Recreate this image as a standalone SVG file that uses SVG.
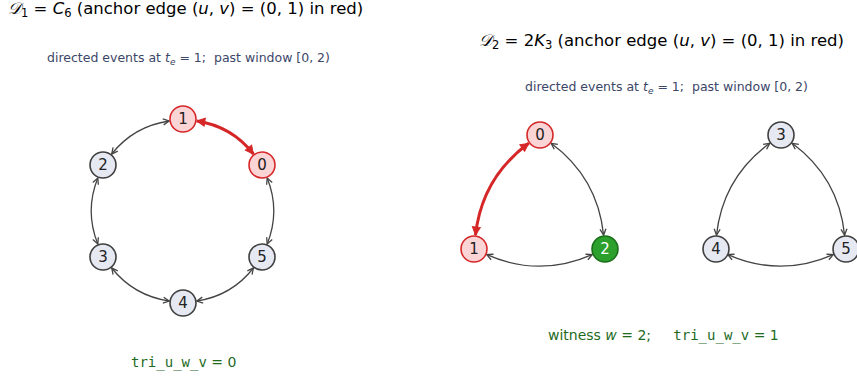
<svg xmlns="http://www.w3.org/2000/svg" width="857" height="378" viewBox="0 0 857 378">
<defs>
<style>
.title{font-family:"DejaVu Sans","Noto Sans",sans-serif;font-size:16.5px;fill:#000}
.sub{font-family:"DejaVu Sans","Noto Sans",sans-serif;font-size:12.5px;fill:#3b4668;white-space:pre}
.mono{font-family:"DejaVu Sans Mono","Liberation Mono",monospace}
.res{font-family:"DejaVu Sans","Noto Sans",sans-serif;font-size:14px;fill:#1e6b1e;white-space:pre}
.it{font-style:italic}
.node circle{stroke-width:1.6}
.plain circle{fill:#e6e8f2;stroke:#3f3f3f}
.anchor circle{fill:#fbd5d5;stroke:#d62728}
.wit circle{fill:#2ca02c;stroke:#1b6e1b}
.node text{font-family:"DejaVu Sans","Noto Sans",sans-serif;font-size:15px;fill:#222;text-anchor:middle;dominant-baseline:central}
.wit text{fill:#fff}
.e{fill:none;stroke:#444;stroke-width:1.3;marker-start:url(#ah);marker-end:url(#ah)}
.er{fill:none;stroke:#d62728;stroke-width:3;marker-start:url(#ahr);marker-end:url(#ahr)}
</style>
<marker id="ah" viewBox="-8 -5 10 10" refX="0" refY="0" markerWidth="10" markerHeight="10" markerUnits="userSpaceOnUse" orient="auto-start-reverse">
<path d="M-6,-3 L0,0 L-6,3" fill="none" stroke="#444" stroke-width="1.3"/>
</marker>
<marker id="ahr" viewBox="-10 -6 12 12" refX="0" refY="0" markerWidth="12" markerHeight="12" markerUnits="userSpaceOnUse" orient="auto-start-reverse">
<path d="M-8,-4 L0,0 L-8,4 Z" fill="#d62728" stroke="#d62728" stroke-width="1"/>
</marker>
</defs>

<text class="title" x="8" y="14"><tspan class="it">𝒟</tspan><tspan font-size="11.5" dy="3">1</tspan><tspan dy="-3"> = </tspan><tspan class="it">C</tspan><tspan font-size="11.5" dy="3">6</tspan><tspan dy="-3"> (anchor edge (</tspan><tspan class="it">u</tspan>, <tspan class="it">v</tspan>) = (0, 1) in red)</text>
<text class="sub" x="47" y="62" xml:space="preserve">directed events at <tspan class="it">t</tspan><tspan font-size="9" dy="3" class="it">e</tspan><tspan dy="-3"> = 1;  past window [0, 2)</tspan></text>

<text class="title" x="479" y="46"><tspan class="it">𝒟</tspan><tspan font-size="11.5" dy="3">2</tspan><tspan dy="-3"> = 2</tspan><tspan class="it">K</tspan><tspan font-size="11.5" dy="3">3</tspan><tspan dy="-3"> (anchor edge (</tspan><tspan class="it">u</tspan>, <tspan class="it">v</tspan>) = (0, 1) in red)</text>
<text class="sub" x="525" y="91" xml:space="preserve">directed events at <tspan class="it">t</tspan><tspan font-size="9" dy="3" class="it">e</tspan><tspan dy="-3"> = 1;  past window [0, 2)</tspan></text>

<g id="connectors">
<path class="er" d="M196.8,121 Q231.7,126.2 253.4,154"/>
<path class="e" d="M267.2,178 Q280.4,211 267.2,244"/>
<path class="e" d="M253.4,268 Q231.7,295.8 196.8,301"/>
<path class="e" d="M169.2,301 Q133.8,295.8 111.7,268"/>
<path class="e" d="M97.8,244 Q84.6,211 97.8,178"/>
<path class="e" d="M111.7,154 Q133.8,126.2 169.1,121"/>

<path class="er" d="M528.7,143.3 Q481.9,177.5 475.5,235.1"/>
<path class="e" d="M551.2,143.3 Q597.6,177.7 603.6,235.1"/>
<path class="e" d="M486.8,254.6 Q539.5,277.8 592.2,254.6"/>

<path class="e" d="M769.7,143.3 Q722.9,177.5 716.5,235.1"/>
<path class="e" d="M792.2,143.3 Q838.6,177.7 844.6,235.1"/>
<path class="e" d="M727.8,254.6 Q780.5,277.8 833.2,254.6"/>
</g>

<g id="n1-1" class="node anchor"><circle cx="183" cy="119" r="13"/><text x="183" y="119">1</text></g>
<g id="n1-0" class="node anchor"><circle cx="262" cy="165" r="13"/><text x="262" y="165">0</text></g>
<g id="n1-2" class="node plain"><circle cx="103" cy="165" r="13"/><text x="103" y="165">2</text></g>
<g id="n1-3" class="node plain"><circle cx="103" cy="257" r="13"/><text x="103" y="257">3</text></g>
<g id="n1-5" class="node plain"><circle cx="262" cy="257" r="13"/><text x="262" y="257">5</text></g>
<g id="n1-4" class="node plain"><circle cx="183" cy="303" r="13"/><text x="183" y="303">4</text></g>

<g id="n2-0" class="node anchor"><circle cx="540" cy="135" r="13"/><text x="540" y="135">0</text></g>
<g id="n2-1" class="node anchor"><circle cx="474" cy="249" r="13"/><text x="474" y="249">1</text></g>
<g id="n2-2" class="node wit"><circle cx="605" cy="249" r="13"/><text x="605" y="249">2</text></g>
<g id="n2-3" class="node plain"><circle cx="781" cy="135" r="13"/><text x="781" y="135">3</text></g>
<g id="n2-4" class="node plain"><circle cx="716" cy="249" r="13"/><text x="716" y="249">4</text></g>
<g id="n2-5" class="node plain"><circle cx="846" cy="249" r="13"/><text x="846" y="249">5</text></g>

<text class="res" x="131" y="367" xml:space="preserve"><tspan class="mono">tri_u_w_v</tspan> = 0</text>
<text class="res" x="548" y="340" xml:space="preserve">witness <tspan class="it">w</tspan> = 2;     <tspan class="mono">tri_u_w_v</tspan> = 1</text>
</svg>
